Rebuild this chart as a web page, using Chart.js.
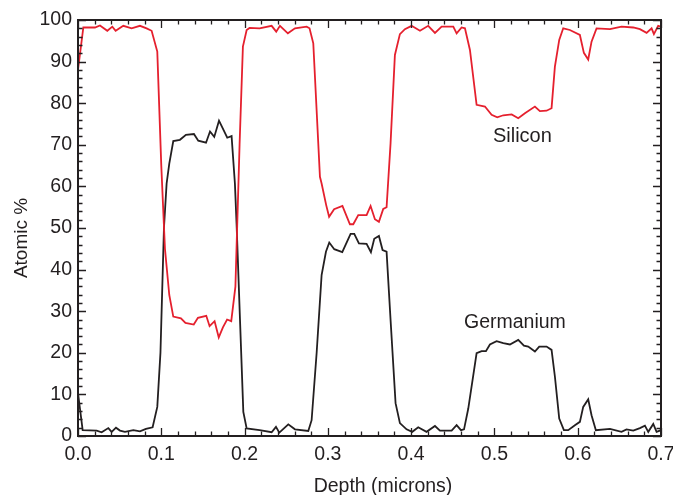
<!DOCTYPE html>
<html><head><meta charset="utf-8">
<script src="https://cdn.jsdelivr.net/npm/chart.js@4"></script>
<style>html,body{margin:0;padding:0;background:#fff}#wrap{width:673px;height:495px}</style>
</head><body><div id="wrap"><canvas id="c" width="673" height="495"></canvas></div>
<script>
const siliconDepth = [0.000,0.0064,0.0204,0.0264,0.0352,0.0412,0.0452,0.0544,0.0644,0.0744,0.0824,0.0884,0.0952,0.1000,0.1044,0.1096,0.1144,0.1236,0.1290,0.1390,0.1440,0.1540,0.1580,0.1640,0.1690,0.1740,0.1790,0.1840,0.1890,0.1940,0.1980,0.2025,0.2060,0.2180,0.2325,0.2380,0.2425,0.2520,0.2605,0.2745,0.2780,0.2825,0.2905,0.2925,0.2980,0.3015,0.3075,0.3175,0.3265,0.3305,0.3365,0.3465,0.3513,0.3565,0.3613,0.3665,0.3705,0.3753,0.3805,0.3865,0.3925,0.4005,0.4106,0.4205,0.4286,0.4366,0.4506,0.4546,0.4606,0.4646,0.4706,0.4786,0.4886,0.4966,0.5034,0.5106,0.5207,0.5286,0.5366,0.5486,0.5546,0.5626,0.5686,0.5726,0.5778,0.5826,0.5906,0.6026,0.6074,0.6126,0.6166,0.6226,0.6387,0.6526,0.6667,0.6747,0.6827,0.6887,0.6915,0.6966,0.7000];
const siliconPct = [88.0,98.2,98.2,98.7,97.4,98.4,97.4,98.6,98.0,98.6,98.0,97.4,92.4,65.0,45.0,33.9,28.7,28.3,27.2,26.8,28.4,28.9,26.4,27.6,23.7,26.1,28.0,27.6,35.9,70.0,93.6,97.6,98.1,98.0,98.6,97.2,98.6,96.8,98.0,98.4,98.0,94.4,62.3,60.7,55.5,52.7,54.5,55.3,50.9,50.9,53.1,53.1,55.3,52.1,51.5,54.6,55.0,70.4,91.6,96.6,97.8,98.6,97.4,98.6,96.9,98.4,98.4,96.8,98.2,98.0,92.8,79.6,79.2,77.2,76.6,77.1,77.3,76.4,77.6,79.2,78.1,78.2,78.8,88.8,95.2,98.0,97.6,96.4,92.1,90.5,94.8,98.0,97.8,98.4,98.2,97.8,96.9,98.0,96.6,98.6,98.4];
const germaniumDepth = [0.000,0.0056,0.0224,0.0284,0.0364,0.0404,0.0456,0.0504,0.0564,0.0664,0.0744,0.0816,0.0896,0.0952,0.0990,0.1032,0.1064,0.1096,0.1144,0.1224,0.1296,0.1392,0.1444,0.1537,0.1585,0.1636,0.1693,0.1744,0.1792,0.1844,0.1884,0.1904,0.1945,0.1985,0.2025,0.2180,0.2325,0.2377,0.2417,0.2525,0.2605,0.2765,0.2805,0.2865,0.2925,0.2977,0.3017,0.3077,0.3173,0.3273,0.3317,0.3373,0.3465,0.3517,0.3557,0.3613,0.3657,0.3705,0.3753,0.3813,0.3865,0.3945,0.4013,0.4085,0.4185,0.4286,0.4346,0.4486,0.4546,0.4598,0.4635,0.4686,0.4786,0.4846,0.4898,0.4946,0.5026,0.5106,0.5186,0.5286,0.5354,0.5406,0.5486,0.5538,0.5626,0.5686,0.5726,0.5778,0.5834,0.5886,0.5966,0.6026,0.6066,0.6126,0.6166,0.6218,0.6387,0.6526,0.6586,0.6667,0.6747,0.6807,0.6847,0.6907,0.6947,0.7000];
const germaniumPct = [10.3,1.4,1.3,0.9,1.9,1.0,2.0,1.3,1.0,1.4,1.1,1.7,2.1,7.0,20.0,50.0,60.7,65.5,70.9,71.2,72.4,72.6,71.0,70.5,73.2,71.9,75.8,73.7,71.7,72.1,60.7,51.0,28.0,5.8,1.8,1.4,0.9,2.2,0.8,2.8,1.6,1.2,3.8,19.9,38.7,44.3,46.5,44.9,44.2,48.6,48.6,46.3,46.2,44.2,47.4,48.1,44.7,44.3,27.9,7.9,3.1,1.6,1.0,2.1,1.0,2.4,1.3,1.3,2.6,1.4,1.6,6.6,19.9,20.4,20.4,22.0,22.8,22.3,22.0,23.1,21.7,21.5,20.3,21.5,21.5,20.7,14.3,4.2,1.4,1.4,2.6,3.4,7.0,8.8,5.0,1.4,1.7,1.0,1.6,1.3,1.9,2.5,1.0,2.9,1.0,1.4];
const seriesNames = ["Silicon", "Germanium"];
const labelAnchors = [[0.5336, 70.7], [0.5246, 26.0]];
const xTickValues = [0, 0.1, 0.2, 0.3, 0.4, 0.5, 0.6, 0.7];
const xTitle = "Depth (microns)";
const yTitle = "Atomic %";
const xMinorStep = 0.02;
const yMinorStep = 2;

const INK = '#231f20';
const RED = '#e5202e';
const FONT = "'Liberation Sans', Arial, Helvetica, sans-serif";

const toPoints = (xs, ys) => xs.map((x, i) => ({x: x, y: ys[i]}));

const framePlugin = {
  id: 'frame',
  afterDatasetsDraw(chart) {
    const {ctx, chartArea: a, scales: {x, y}} = chart;
    ctx.save();
    ctx.strokeStyle = INK;
    ctx.lineWidth = 1.3;
    for (let k = 0; k <= 35; k++) {
      const v = k * xMinorStep;
      const px = Math.round(x.getPixelForValue(v)) + 0.5;
      const len = (k % 5 === 0) ? 8 : 4.5;
      ctx.beginPath();
      ctx.moveTo(px, a.bottom); ctx.lineTo(px, a.bottom - len);
      ctx.moveTo(px, a.top); ctx.lineTo(px, a.top + len);
      ctx.stroke();
    }
    for (let k = 0; k <= 50; k++) {
      const v = k * yMinorStep;
      const py = Math.round(y.getPixelForValue(v)) + 0.5;
      const len = (k % 5 === 0) ? 8 : 4.5;
      ctx.beginPath();
      ctx.moveTo(a.left, py); ctx.lineTo(a.left + len, py);
      ctx.moveTo(a.right, py); ctx.lineTo(a.right - len, py);
      ctx.stroke();
    }
    ctx.lineWidth = 2;
    ctx.strokeRect(a.left, a.top, a.right - a.left, a.bottom - a.top);
    ctx.fillStyle = INK;
    ctx.textAlign = 'center';
    ctx.textBaseline = 'alphabetic';
    ctx.font = "20px " + FONT;
    ctx.fillText(seriesNames[0], x.getPixelForValue(labelAnchors[0][0]), y.getPixelForValue(labelAnchors[0][1]));
    ctx.font = "19.5px " + FONT;
    ctx.fillText(seriesNames[1], x.getPixelForValue(labelAnchors[1][0]), y.getPixelForValue(labelAnchors[1][1]));
    ctx.font = "19.5px " + FONT;
    ctx.fillText(xTitle, (a.left + a.right) / 2 + 13.5, chart.height - 3.5);
    ctx.save();
    ctx.translate(27, (a.top + a.bottom) / 2 + 10);
    ctx.rotate(-Math.PI / 2);
    ctx.font = "19px " + FONT;
    ctx.fillText(yTitle, 0, 0);
    ctx.restore();
    ctx.restore();
  }
};

new Chart(document.getElementById('c'), {
  type: 'line',
  data: {
    datasets: [
      {label: seriesNames[0], data: toPoints(siliconDepth, siliconPct), borderColor: RED, borderWidth: 1.8, pointRadius: 0, tension: 0, fill: false},
      {label: seriesNames[1], data: toPoints(germaniumDepth, germaniumPct), borderColor: INK, borderWidth: 1.8, pointRadius: 0, tension: 0, fill: false}
    ]
  },
  options: {
    responsive: false,
    devicePixelRatio: 1,
    animation: false,
    layout: {padding: {top: 20, right: 12, left: 0, bottom: 0}},
    plugins: {legend: {display: false}, tooltip: {enabled: false}},
    scales: {
      x: {
        type: 'linear', min: 0, max: 0.7,
        afterBuildTicks: s => { s.ticks = xTickValues.map(v => ({value: v})); },
        afterFit: s => { s.height = 59; s.paddingLeft = 0; s.paddingRight = 0; },
        grid: {display: false, drawTicks: false},
        border: {display: false},
        ticks: {color: INK, font: {family: FONT, size: 19.5}, padding: 7, maxRotation: 0, callback: v => Number(v).toFixed(1)},
        title: {display: false, text: xTitle}
      },
      y: {
        type: 'linear', min: 0, max: 100,
        ticks: {stepSize: 10, color: INK, font: {family: FONT, size: 19.5}, padding: 6},
        afterFit: s => { s.width = 78; s.paddingTop = 0; s.paddingBottom = 0; },
        grid: {display: false, drawTicks: false},
        border: {display: false},
        title: {display: false, text: yTitle}
      }
    }
  },
  plugins: [framePlugin]
});
</script>
</body></html>
